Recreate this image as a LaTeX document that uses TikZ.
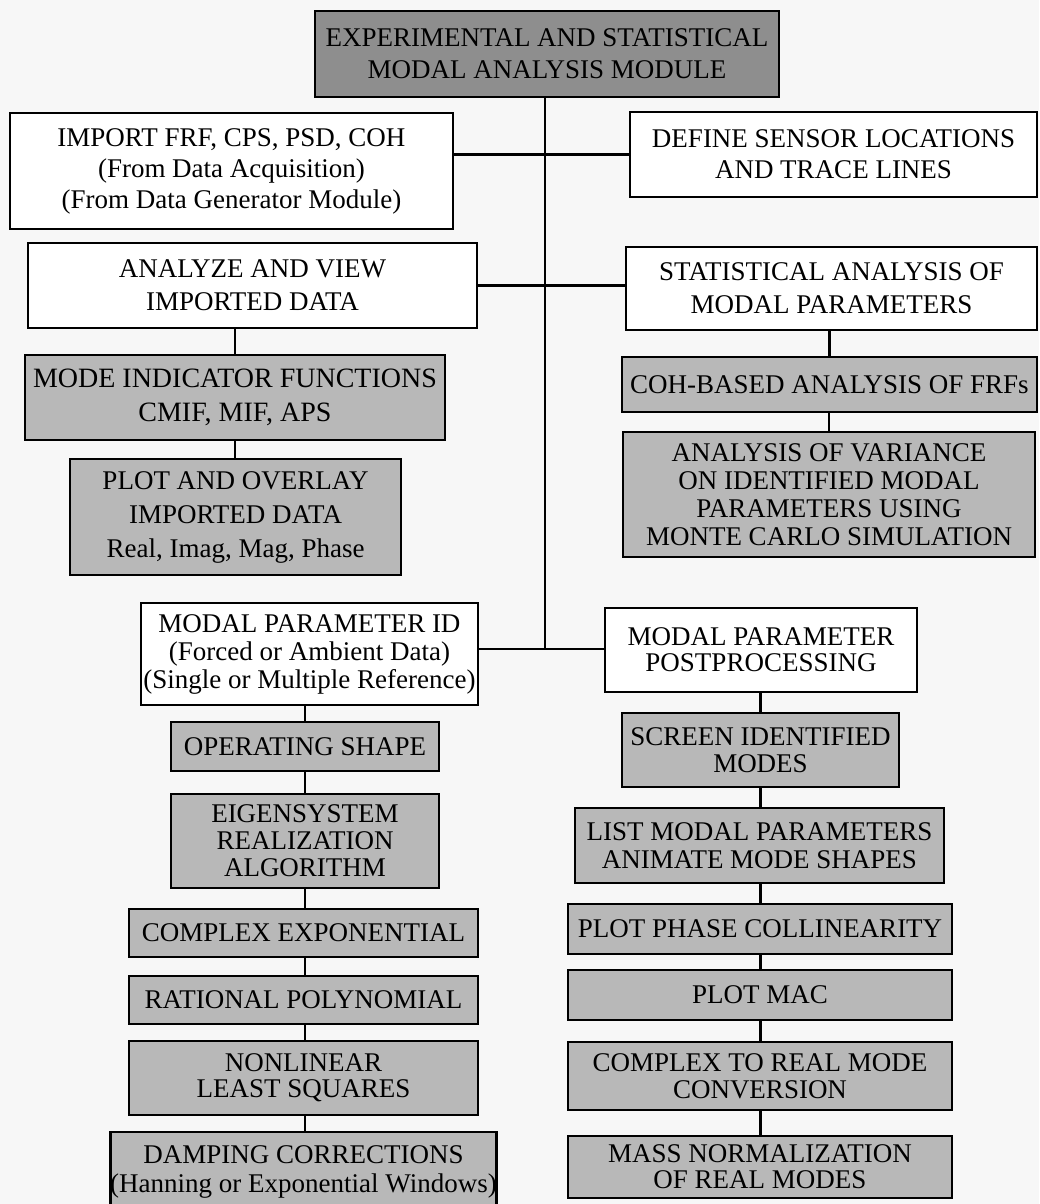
\documentclass[tikz,border=0pt]{standalone}
\usepackage{fontspec}
\setmainfont{Liberation Serif}
\definecolor{bgcol}{HTML}{F7F7F7}
\definecolor{shadeA}{HTML}{8E8E8E}
\definecolor{shadeB}{HTML}{B8B8B8}
\begin{document}
\begin{tikzpicture}[x=1pt,y=-1pt,
  box/.style={draw=black, line width=2.6pt, inner sep=0pt, align=center,
    font=\fontsize{27}{29}\selectfont, text=black},
  plainbox/.style={box, fill=white},
  shadebox/.style={box, fill=shadeB},
  darkbox/.style={box, fill=shadeA},
  link/.style={draw=black, line width=2.4pt}]
\useasboundingbox (0,0) rectangle (1039,1204);
\fill[bgcol] (0,0) rectangle (1039,1204);

% top
\node[darkbox, minimum width=464pt, minimum height=86pt, font=\fontsize{27}{32}\selectfont] (top) at (547,54)
  {EXPERIMENTAL AND STATISTICAL\\MODAL ANALYSIS MODULE};

% left column upper
\node[plainbox, minimum width=443pt, minimum height=116pt, font=\fontsize{27}{31}\selectfont] (import) at (231.5,171)
  {IMPORT FRF, CPS, PSD, COH\\(From Data Acquisition)\\(From Data Generator Module)};
\node[plainbox, minimum width=407pt, minimum height=85pt, font=\fontsize{27}{31}\selectfont] (define) at (833.5,154.5)
  {DEFINE SENSOR LOCATIONS\\AND TRACE LINES};
\node[plainbox, minimum width=449pt, minimum height=85pt, font=\fontsize{27}{33}\selectfont] (analyze) at (252.5,285.5)
  {ANALYZE AND VIEW\\IMPORTED DATA};
\node[plainbox, minimum width=411pt, minimum height=83pt, font=\fontsize{27}{33}\selectfont] (stat) at (831.5,288.5)
  {STATISTICAL ANALYSIS OF\\MODAL PARAMETERS};
\node[shadebox, minimum width=420pt, minimum height=85pt, font=\fontsize{28}{34}\selectfont] (mif) at (235,397.5)
  {MODE INDICATOR FUNCTIONS\\CMIF, MIF, APS};
\node[shadebox, minimum width=415pt, minimum height=55pt] (coh) at (829.5,384.5)
  {COH-BASED ANALYSIS OF FRFs};
\node[shadebox, minimum width=331pt, minimum height=116pt, font=\fontsize{27}{34}\selectfont] (plot) at (235.5,517)
  {PLOT AND OVERLAY\\IMPORTED DATA\\Real, Imag, Mag, Phase};
\node[shadebox, minimum width=412pt, minimum height=125pt, font=\fontsize{27}{28}\selectfont] (anova) at (829,494.5)
  {ANALYSIS OF VARIANCE\\ON IDENTIFIED MODAL\\PARAMETERS USING\\MONTE CARLO SIMULATION};

% lower
\node[plainbox, minimum width=337pt, minimum height=102pt, font=\fontsize{27}{28}\selectfont] (mpid) at (309.5,654)
  {MODAL PARAMETER ID\\(Forced or Ambient Data)\\(Single or Multiple Reference)};
\node[plainbox, minimum width=312pt, minimum height=84pt, font=\fontsize{27}{26}\selectfont] (post) at (761,650)
  {MODAL PARAMETER\\POSTPROCESSING};

\node[shadebox, minimum width=268pt, minimum height=49pt] (oper) at (305,746.5) {OPERATING SHAPE};
\node[shadebox, minimum width=268pt, minimum height=94pt, font=\fontsize{27}{27}\selectfont] (eigen) at (305,841)
  {EIGENSYSTEM\\REALIZATION\\ALGORITHM};
\node[shadebox, minimum width=349pt, minimum height=48pt] (cexp) at (303.5,933) {COMPLEX EXPONENTIAL};
\node[shadebox, minimum width=349pt, minimum height=48pt] (rat) at (303.5,1000) {RATIONAL POLYNOMIAL};
\node[shadebox, minimum width=349pt, minimum height=74pt, font=\fontsize{27}{26}\selectfont] (nlls) at (303.5,1078) {NONLINEAR\\LEAST SQUARES};
\node[shadebox, minimum width=385pt, minimum height=80pt] (damp) at (303.5,1172)
  {DAMPING CORRECTIONS\\(Hanning or Exponential Windows)};

\node[shadebox, minimum width=277pt, minimum height=74pt, font=\fontsize{27}{27}\selectfont] (screen) at (760.5,750)
  {SCREEN IDENTIFIED\\MODES};
\node[shadebox, minimum width=369pt, minimum height=75pt, font=\fontsize{27}{28}\selectfont] (list) at (759.5,845.5)
  {LIST MODAL PARAMETERS\\ANIMATE MODE SHAPES};
\node[shadebox, minimum width=384pt, minimum height=50pt] (phase) at (760,929) {PLOT PHASE COLLINEARITY};
\node[shadebox, minimum width=384pt, minimum height=50pt] (mac) at (760,995) {PLOT MAC};
\node[shadebox, minimum width=384pt, minimum height=68pt, font=\fontsize{27}{27}\selectfont] (c2r) at (760,1076)
  {COMPLEX TO REAL MODE\\CONVERSION};
\node[shadebox, minimum width=384pt, minimum height=62pt, font=\fontsize{27}{26}\selectfont] (mass) at (760,1167)
  {MASS NORMALIZATION\\OF REAL MODES};

% connectors
\coordinate (spine) at (545,649);
\draw[link] (top.south -| spine) -- (spine);
\draw[link] (define.west) -- (define.west -| import.east);
\draw[link] (analyze.east) -- (analyze.east -| stat.west);
\draw[link] (mpid.east |- spine) -- (post.west |- spine);

\draw[link] (mif.north) -- (mif.north |- analyze.south);
\draw[link] (mif.south) -- (plot.north -| mif.south);
\draw[link] (coh.north) -- (coh.north |- stat.south);
\draw[link] (anova.north) -- (anova.north |- coh.south);

\draw[link] (oper.north) -- (oper.north |- mpid.south);
\draw[link] (oper.south) -- (eigen.north);
\draw[link] (eigen.south) -- (eigen.south |- cexp.north);
\draw[link] (eigen.south |- cexp.south) -- (eigen.south |- rat.north);
\draw[link] (eigen.south |- rat.south) -- (eigen.south |- nlls.north);
\draw[link] (eigen.south |- nlls.south) -- (eigen.south |- damp.north);

\draw[link] (screen.north) -- (screen.north |- post.south);
\draw[link] (screen.south) -- (screen.south |- list.north);
\draw[link] (screen.south |- list.south) -- (screen.south |- phase.north);
\draw[link] (screen.south |- phase.south) -- (screen.south |- mac.north);
\draw[link] (screen.south |- mac.south) -- (screen.south |- c2r.north);
\draw[link] (screen.south |- c2r.south) -- (screen.south |- mass.north);
\end{tikzpicture}
\end{document}
